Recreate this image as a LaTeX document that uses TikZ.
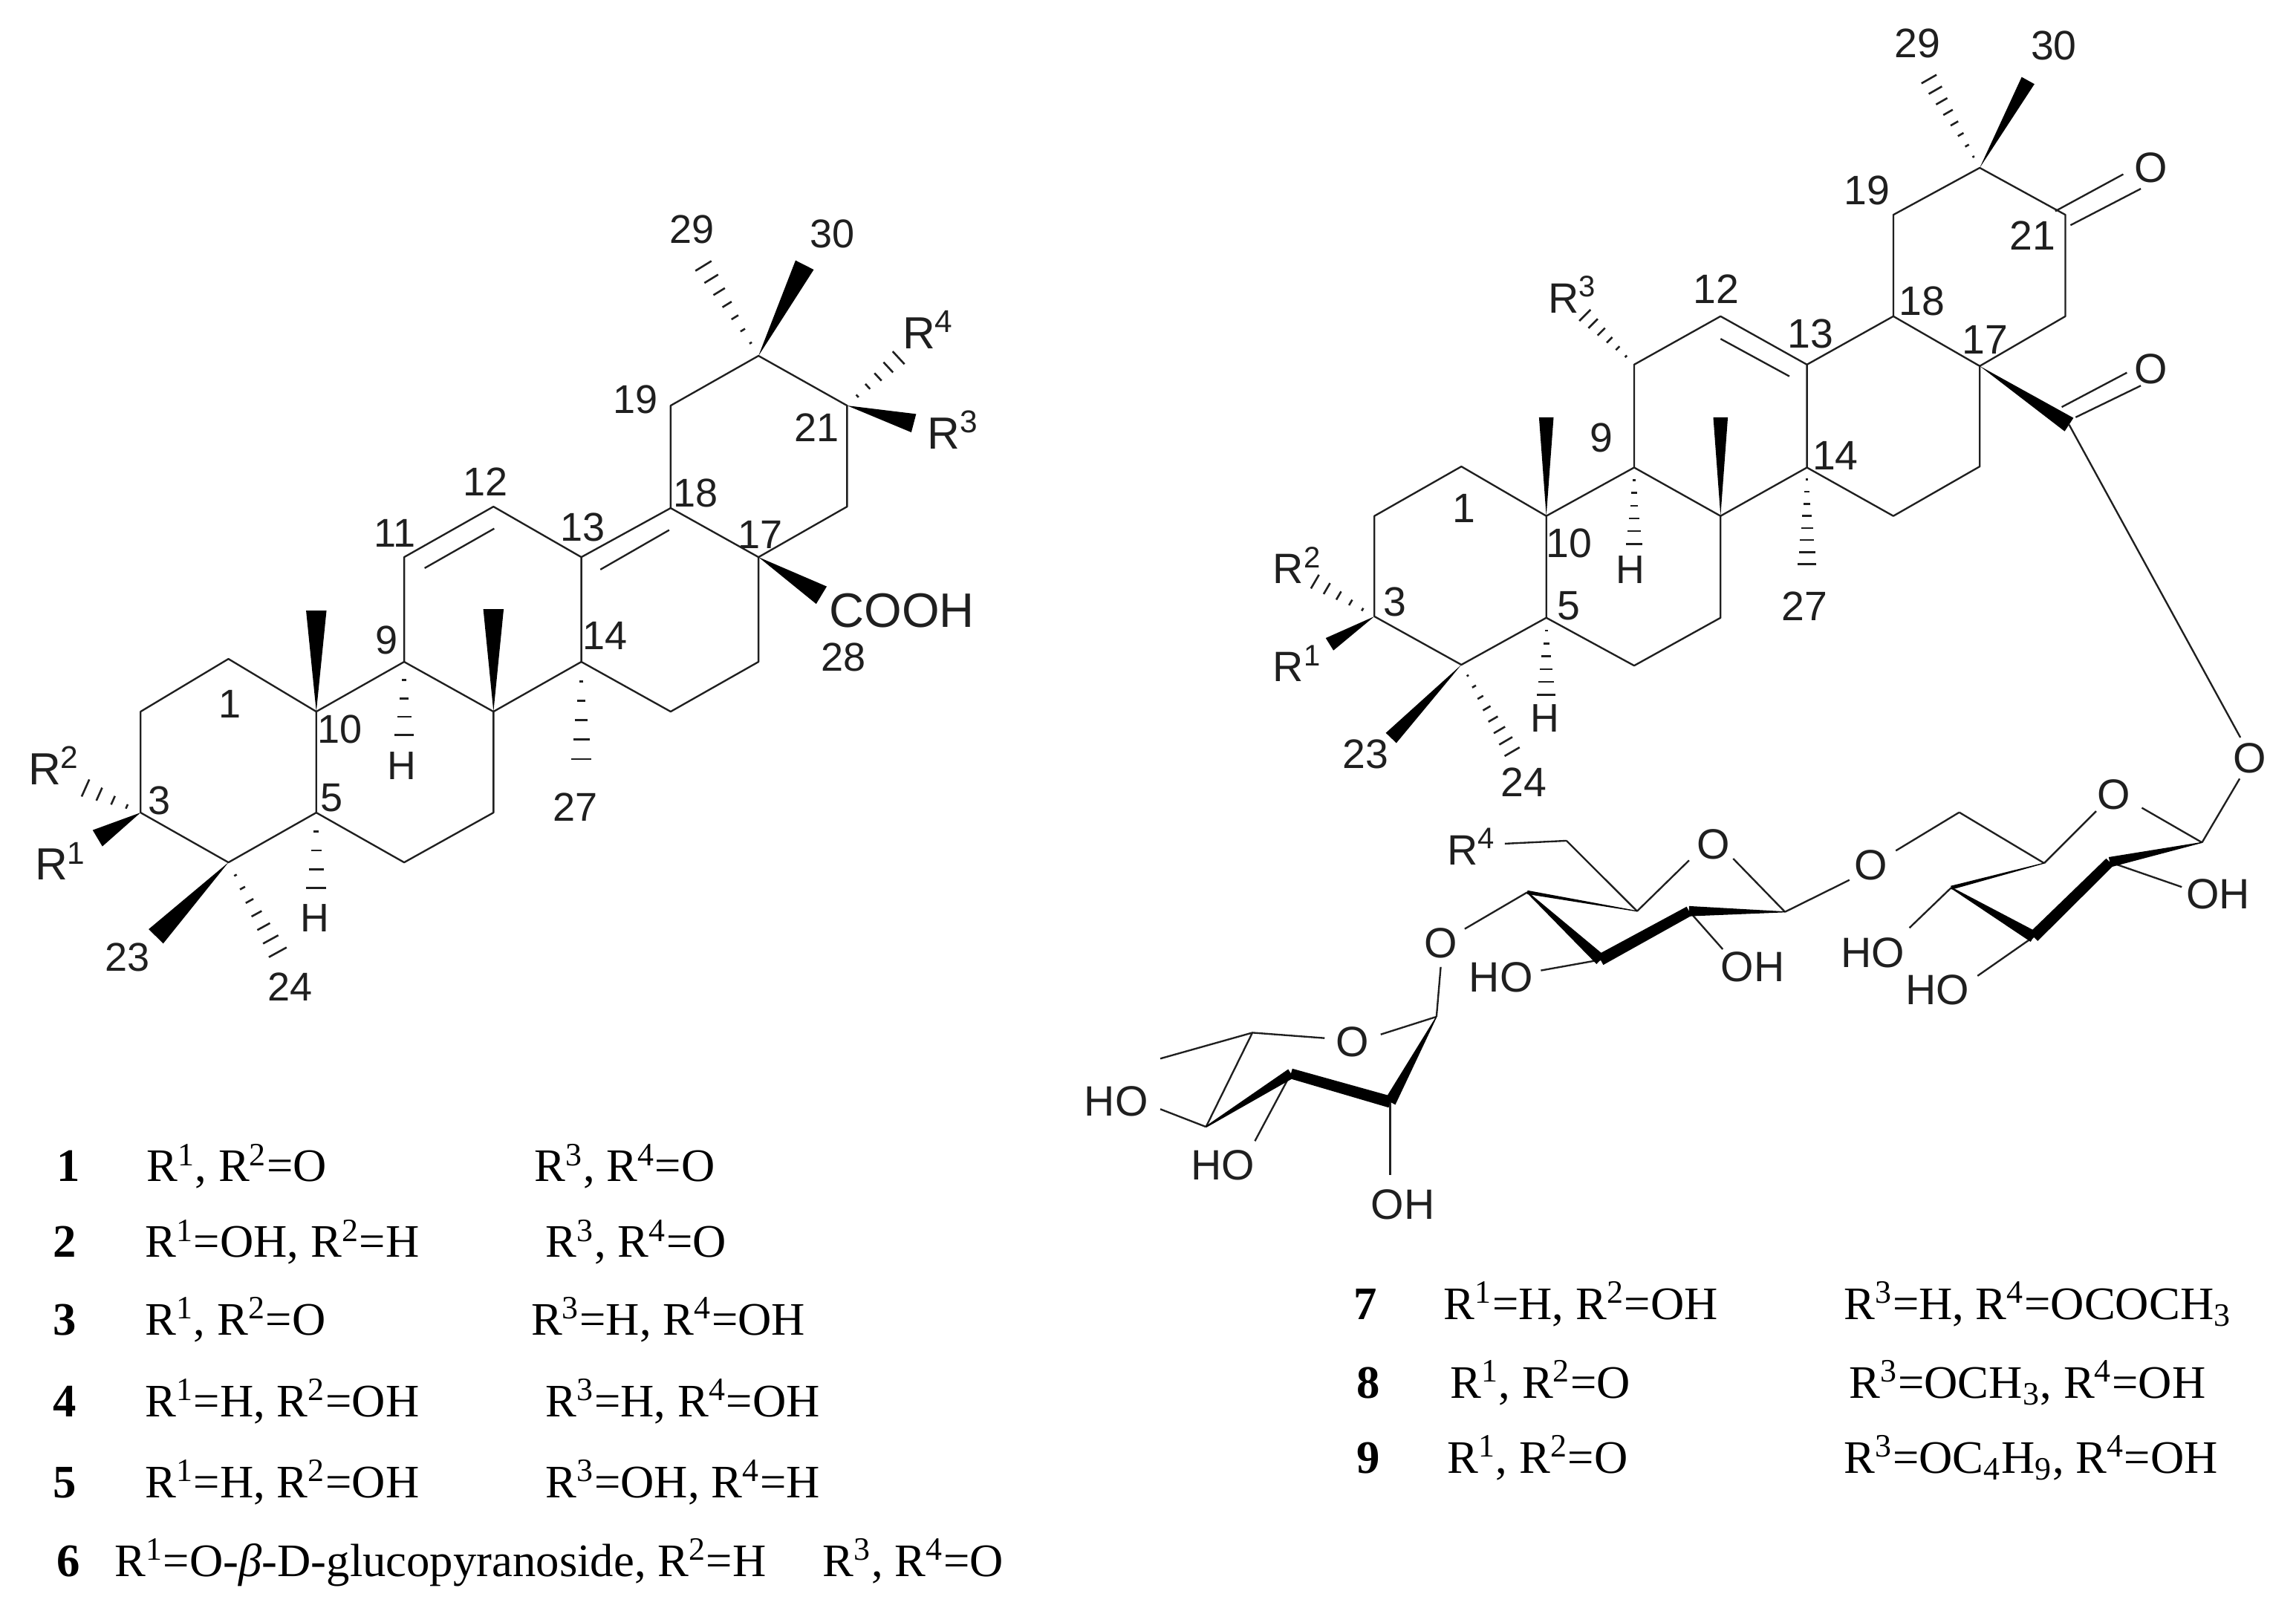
\documentclass[tikz,border=0pt]{standalone}
\usepackage{fontspec}
\setmainfont{Liberation Serif}
\newfontfamily\arialf{Liberation Sans}
\usetikzlibrary{calc}
\definecolor{ink}{gray}{0.12}
\tikzset{
  bond/.style={draw=ink,line width=0.68pt,line join=round},
  solidbond/.style={fill=black,draw=none},
  hashline/.style={draw=ink,line width=0.75pt},
  num/.style={font=\arialf\fontsize{15.6}{18}\selectfont,inner sep=0pt,text=ink},
  numb/.style={font=\arialf\fontsize{16}{18}\selectfont,inner sep=0pt,text=ink},
  rl/.style={font=\arialf\fontsize{17.5}{20}\selectfont,inner sep=0pt,anchor=base west,text=ink},
  rr/.style={font=\arialf\fontsize{16.5}{18}\selectfont,inner sep=0pt,anchor=base west,text=ink},
  hl/.style={font=\arialf\fontsize{15.5}{18}\selectfont,inner sep=0pt,text=ink},
  atomlab/.style={font=\arialf\fontsize{16.5}{20}\selectfont,inner sep=0pt,text=ink},
  tab/.style={font=\fontsize{18.1}{20}\selectfont,inner sep=0pt,anchor=base west,text=black},
}
\newcommand\wedgebond[3]{\fill[solidbond] (#1) -- ($(#2)!#3*0.2835pt!90:(#1)$) -- ($(#2)!#3*0.2835pt!-90:(#1)$) -- cycle;}
\newcommand\taperbond[4]{\fill[solidbond] ($(#1)!#3*0.2835pt!90:(#2)$) -- ($(#1)!#3*0.2835pt!-90:(#2)$) -- ($(#2)!#4*0.2835pt!90:(#1)$) -- ($(#2)!#4*0.2835pt!-90:(#1)$) -- cycle;}
% hashbond{from}{to}{end width}{number of hash lines}
\newcommand\hashbond[4]{\foreach \i in {1,...,#4}{%
  \pgfmathsetmacro\t{0.99*\i/#4}%
  \pgfmathsetmacro\hw{#3*\t*0.2835}%
  \draw[hashline] ($(#1)!\t!(#2)!\hw pt!90:(#2)$) -- ($(#1)!\t!(#2)!\hw pt!-90:(#2)$);}}
\newcommand\Rs[1]{R\textsuperscript{#1}}
\begin{document}
\begin{tikzpicture}[x=0.02cm,y=-0.02cm]
\fill[white] (0,0) rectangle (1568,1100);
\useasboundingbox (0,0) rectangle (1568,1100);

% ---------- left skeleton
\coordinate (a1) at (156,450); \coordinate (a2) at (96,486); \coordinate (a3) at (96,555);
\coordinate (a4) at (156,589); \coordinate (a5) at (216,555); \coordinate (a6) at (276,589);
\coordinate (a7) at (337,555); \coordinate (a8) at (337,486); \coordinate (a9) at (276,452);
\coordinate (a10) at (216,486); \coordinate (a11) at (276,380.5); \coordinate (a12) at (337,346);
\coordinate (a13) at (397,380.5); \coordinate (a14) at (397,452); \coordinate (a15) at (458,486);
\coordinate (a16) at (518,452); \coordinate (a17) at (518,380.5); \coordinate (a18) at (458,347);
\coordinate (a19) at (458,277); \coordinate (a20) at (518,243); \coordinate (a21) at (578.5,277);
\coordinate (a22) at (578.5,346);
\draw[bond] (a3)--(a2)--(a1)--(a10)--(a5)--(a4)--(a3);
\draw[bond] (a5)--(a6)--(a7)--(a8)--(a9)--(a10);
\draw[bond] (a9)--(a11)--(a12)--(a13)--(a14)--(a8);
\draw[bond] (a14)--(a15)--(a16)--(a17)--(a18)--(a13);
\draw[bond] (a18)--(a19)--(a20)--(a21)--(a22)--(a17);
\coordinate (a11i) at (290,388); \coordinate (a12i) at (337.5,361);
\coordinate (a13i) at (410,389); \coordinate (a18i) at (457,362);
\draw[bond] (a11i)--(a12i); \draw[bond] (a13i)--(a18i);
\coordinate (am10) at (216,417); \coordinate (am8) at (337,416);
\coordinate (am30) at (549.5,181); \coordinate (am29) at (480,181);
\coordinate (arr4) at (614,244); \coordinate (arr3) at (624,289);
\coordinate (acooh) at (561,406.5); \coordinate (ah9) at (276,502.5);
\coordinate (am27) at (397,519); \coordinate (ah5) at (216,607);
\coordinate (am23) at (106.5,639.5); \coordinate (am24) at (190,651);
\coordinate (arr1) at (66.6,572.5); \coordinate (arr2) at (58,538);
\wedgebond{a10}{am10}{14} \wedgebond{a8}{am8}{14} \wedgebond{a20}{am30}{14}
\wedgebond{a21}{arr3}{13} \wedgebond{a17}{acooh}{14} \wedgebond{a4}{am23}{14}
\wedgebond{a3}{arr1}{13}
\hashbond{a20}{am29}{13}{7} \hashbond{a21}{arr4}{12}{5} \hashbond{a9}{ah9}{13}{4}
\hashbond{a14}{am27}{14}{5} \hashbond{a5}{ah5}{14}{4} \hashbond{a4}{am24}{14}{7}
\hashbond{a3}{arr2}{13}{4}

\node[num] (l29) at (472.5,156.5) {29};
\node[num] (l30) at (568.5,159.5) {30};
\node[num] (l19) at (434,273) {19};
\node[num] (l21) at (558,292) {21};
\node[num] (l12) at (331.6,329) {12};
\node[num] (l11) at (269.5,364) {11};
\node[num] (l13) at (398,360) {13};
\node[num] (l18) at (475,337) {18};
\node[num] (l17) at (519,365) {17};
\node[num] (l28) at (576,449) {28};
\node[num] (l9) at (264,437) {9};
\node[num] (l14) at (413,434) {14};
\node[num] (l1) at (157,481) {1};
\node[num] (l10) at (232,498) {10};
\node[num] (l27) at (393,551) {27};
\node[num] (l3) at (109,547) {3};
\node[num] (l5) at (226.5,545) {5};
\node[num] (l23) at (87,654) {23};
\node[num] (l24) at (198,674) {24};
\node[hl] (lh9) at (274.5,523) {H};
\node[hl] (lh5) at (215,627) {H};
\node[rl] (lr4) at (616,238) {R\textsuperscript{4}};
\node[rl] (lr3) at (633,306.5) {R\textsuperscript{3}};
\node[rl] (lr2) at (19,536) {R\textsuperscript{2}};
\node[rl] (lr1) at (23.5,601) {R\textsuperscript{1}};
\node[font=\arialf\fontsize{18.8}{22}\selectfont,inner sep=0pt,text=ink] (lcooh) at (616,417) {COOH};

% ---------- right skeleton
\coordinate (b1) at (998,318.6); \coordinate (b2) at (938.6,352.4); \coordinate (b3) at (938.6,421);
\coordinate (b4) at (998,454); \coordinate (b5) at (1056,421.9); \coordinate (b6) at (1116,454.6);
\coordinate (b7) at (1175,421.9); \coordinate (b8) at (1175,352.4); \coordinate (b9) at (1116,319.3);
\coordinate (b10) at (1056,352.4); \coordinate (b11) at (1116,249); \coordinate (b12) at (1175,216);
\coordinate (b13) at (1234,249); \coordinate (b14) at (1234,319.3); \coordinate (b15) at (1293,352.4);
\coordinate (b16) at (1352,318.6); \coordinate (b17) at (1352,250); \coordinate (b18) at (1293,216);
\coordinate (b19) at (1293,146.7); \coordinate (b20) at (1352,114.6); \coordinate (b21) at (1410.5,146.7);
\coordinate (b22) at (1410.5,216); \coordinate (b28) at (1413,290);
\draw[bond] (b3)--(b2)--(b1)--(b10)--(b5)--(b4)--(b3);
\draw[bond] (b5)--(b6)--(b7)--(b8)--(b9)--(b10);
\draw[bond] (b9)--(b11)--(b12)--(b13)--(b14)--(b8);
\draw[bond] (b14)--(b15)--(b16)--(b17)--(b18)--(b13);
\draw[bond] (b18)--(b19)--(b20)--(b21)--(b22)--(b17);
\coordinate (b12i) at (1175,231.4); \coordinate (b13i) at (1222,257);
\draw[bond] (b12i)--(b13i);
\coordinate (bd1) at (1403.6,144.2); \coordinate (bd2) at (1450,119);
\coordinate (bd3) at (1414,153.8); \coordinate (bd4) at (1462,128.9);
\draw[bond] (bd1)--(bd2); \draw[bond] (bd3)--(bd4);
\coordinate (be1) at (1408,278); \coordinate (be2) at (1452.5,254.5);
\coordinate (be3) at (1417.5,285); \coordinate (be4) at (1462,263.4);
\draw[bond] (be1)--(be2); \draw[bond] (be3)--(be4);
\coordinate (bm10) at (1056,285); \coordinate (bm8) at (1175,285);
\coordinate (bm30) at (1385,55); \coordinate (bm29) at (1317,53.4);
\coordinate (brr3) at (1082,215); \coordinate (bh9) at (1116,372);
\coordinate (bm27) at (1234,386); \coordinate (bh5) at (1056,475);
\coordinate (bm23) at (950,504); \coordinate (bm24) at (1033,514);
\coordinate (brr1) at (908,440); \coordinate (brr2) at (897.6,397);
\wedgebond{b10}{bm10}{10} \wedgebond{b8}{bm8}{10} \wedgebond{b20}{bm30}{10}
\wedgebond{b17}{b28}{11} \wedgebond{b4}{bm23}{10} \wedgebond{b3}{brr1}{10}
\hashbond{b20}{bm29}{12}{8} \hashbond{b11}{brr3}{11}{6} \hashbond{b9}{bh9}{11}{6}
\hashbond{b14}{bm27}{13}{8} \hashbond{b5}{bh5}{13}{6} \hashbond{b4}{bm24}{12}{8}
\hashbond{b3}{brr2}{11}{5}

\node[numb] (m29) at (1309.4,29.5) {29};
\node[numb] (m30) at (1402.6,31) {30};
\node[numb] (m19) at (1275,130) {19};
\node[numb] (m21) at (1388,161) {21};
\node[numb] (m12) at (1172,197.6) {12};
\node[numb] (m18) at (1312.6,205.4) {18};
\node[numb] (m13) at (1236.6,228) {13};
\node[numb] (m17) at (1355.5,232) {17};
\node[numb] (m9) at (1093.5,299) {9};
\node[numb] (m14) at (1253.4,311) {14};
\node[numb] (m1) at (1000,347) {1};
\node[numb] (m10) at (1071.5,371) {10};
\node[numb] (m27) at (1232.4,414) {27};
\node[numb] (m3) at (952.6,411) {3};
\node[numb] (m5) at (1071.5,414) {5};
\node[numb] (m23) at (932.6,515) {23};
\node[numb] (m24) at (1040.8,534) {24};
\node[hl] (mh9) at (1113.5,389) {H};
\node[hl] (mh5) at (1055,490.6) {H};
\node[rr] (mr3) at (1057,213.6) {R\textsuperscript{3}};
\node[rr] (mr2) at (869,398.7) {R\textsuperscript{2}};
\node[rr] (mr1) at (869,465.6) {R\textsuperscript{1}};
\node[rr] (mr4) at (988,590.5) {R\textsuperscript{4}};
\node[atomlab] (o21) at (1469,114.6) {O};
\node[atomlab] (o28) at (1469,252) {O};
\node[atomlab] (o1) at (1536.6,518) {O};

% ---------- sugars
\coordinate (c1) at (1503.8,575.4); \coordinate (c2) at (1440.8,588.8); \coordinate (c3) at (1388.8,639.8);
\coordinate (c4) at (1332.5,606.3); \coordinate (c5) at (1396,589.5); \coordinate (c6) at (1338,554.8);
\coordinate (d1) at (1219,622.8); \coordinate (d2) at (1153.5,622.3); \coordinate (d3) at (1093,655.5);
\coordinate (d4) at (1043,609.4); \coordinate (d5) at (1118,622.3); \coordinate (d6) at (1069.8,574.2);
\coordinate (f1) at (981,694.4); \coordinate (f2) at (949.4,752.6); \coordinate (f3) at (881.6,733.2);
\coordinate (f4) at (823.6,769.6); \coordinate (f5) at (855.3,705.3); \coordinate (f6) at (792.4,723);

\node[atomlab] (oc) at (1443.6,542.7) {O};
\node[atomlab] (o6) at (1277.8,590.7) {O};
\node[atomlab] (od) at (1170,576.6) {O};
\node[atomlab] (o4) at (983.9,644) {O};
\node[atomlab] (of) at (923.7,711.4) {O};
\node[atomlab] (hc2) at (1514.7,610.6) {OH};
\node[atomlab] (hc4) at (1279,650.7) {HO};
\node[atomlab] (hc3) at (1323,676) {HO};
\node[atomlab] (hd2) at (1197,660.4) {OH};
\node[atomlab] (hd3) at (1025,667.7) {HO};
\node[atomlab] (hf4) at (762.3,752) {HO};
\node[atomlab] (hf3) at (835,795.8) {HO};
\node[atomlab] (hf2) at (958,822.5) {OH};

\coordinate (k1) at (1530,503.7); \draw[bond] (b28)--(k1);
\coordinate (k2) at (1529.5,531.8); \draw[bond] (k2)--(c1);
\coordinate (k3) at (1462.7,551.7); \draw[bond] (c1)--(k3);
\coordinate (k4) at (1431.5,554); \draw[bond] (k4)--(c5);
\draw[bond] (c6)--(c5);
\coordinate (k5) at (1294.7,581); \draw[bond] (k5)--(c6);
\coordinate (k6) at (1490,605.8); \draw[bond] (c2)--(k6);
\coordinate (k7) at (1304,633.7); \draw[bond] (c4)--(k7);
\coordinate (k8) at (1350.5,666.5); \draw[bond] (c3)--(k8);
\taperbond{c5}{c4}{0.6}{2.6} \taperbond{c4}{c3}{1}{8} \taperbond{c3}{c2}{8}{7} \taperbond{c2}{c1}{7}{0.6}

\coordinate (k9) at (1263,601); \draw[bond] (k9)--(d1);
\coordinate (k10) at (1183.6,586.4); \draw[bond] (d1)--(k10);
\coordinate (k11) at (1153.5,587.6); \draw[bond] (k11)--(d5);
\draw[bond] (d5)--(d6);
\coordinate (k12) at (1027.7,576.2); \draw[bond] (d6)--(k12);
\coordinate (k13) at (1176.5,648.3); \draw[bond] (d2)--(k13);
\coordinate (k14) at (1052.3,662.8); \draw[bond] (d3)--(k14);
\coordinate (k15) at (1000.3,634.4); \draw[bond] (d4)--(k15);
\taperbond{d5}{d4}{0.6}{2.6} \taperbond{d4}{d3}{1}{8} \taperbond{d3}{d2}{8}{7} \taperbond{d2}{d1}{7}{0.6}

\coordinate (k16) at (983.9,660.4); \draw[bond] (k16)--(f1);
\coordinate (k17) at (942.9,706.5); \draw[bond] (f1)--(k17);
\coordinate (k18) at (904.6,709); \draw[bond] (f5)--(k18);
\draw[bond] (f6)--(f5)--(f4);
\coordinate (k19) at (792.4,757.5); \draw[bond] (f4)--(k19);
\coordinate (k20) at (857,779.3); \draw[bond] (f3)--(k20);
\coordinate (k21) at (949.4,802.4); \draw[bond] (f2)--(k21);
\taperbond{f1}{f2}{0.6}{8} \taperbond{f2}{f3}{8}{7} \taperbond{f3}{f4}{7}{1}

% ---------- tables
\node[tab] (t1n) at (38.5,807) {\bfseries 1};
\node[tab] (t1a) at (99.7,807) {\Rs1, \Rs2=O};
\node[tab] (t1b) at (364.7,807) {\Rs3, \Rs4=O};
\node[tab] (t2n) at (36,858.7) {\bfseries 2};
\node[tab] (t2a) at (98.8,858.7) {\Rs1=OH, \Rs2=H};
\node[tab] (t2b) at (372.4,858.7) {\Rs3, \Rs4=O};
\node[tab] (t3n) at (36,911.8) {\bfseries 3};
\node[tab] (t3a) at (98.8,911.8) {\Rs1, \Rs2=O};
\node[tab] (t3b) at (362.4,911.8) {\Rs3=H, \Rs4=OH};
\node[tab] (t4n) at (36,967.4) {\bfseries 4};
\node[tab] (t4a) at (98.8,967.4) {\Rs1=H, \Rs2=OH};
\node[tab] (t4b) at (372.4,967.4) {\Rs3=H, \Rs4=OH};
\node[tab] (t5n) at (36,1023) {\bfseries 5};
\node[tab] (t5a) at (98.8,1023) {\Rs1=H, \Rs2=OH};
\node[tab] (t5b) at (372.4,1023) {\Rs3=OH, \Rs4=H};
\node[tab] (t6n) at (38.5,1076.5) {\bfseries 6};
\node[tab] (t6a) at (78,1076.5) {\Rs1=O-{\itshape β}-D-glucopyranoside, \Rs2=H};
\node[tab] (t6b) at (561.7,1076.5) {\Rs3, \Rs4=O};
\node[tab] (t7n) at (924,901) {\bfseries 7};
\node[tab] (t7a) at (985.7,901) {\Rs1=H, \Rs2=OH};
\node[tab] (t7b) at (1259,901) {\Rs3=H, \Rs4=OCOCH\textsubscript{3}};
\node[tab] (t8n) at (926,954.7) {\bfseries 8};
\node[tab] (t8a) at (990,954.7) {\Rs1, \Rs2=O};
\node[tab] (t8b) at (1262.7,954.7) {\Rs3=OCH\textsubscript{3}, \Rs4=OH};
\node[tab] (t9n) at (926,1006) {\bfseries 9};
\node[tab] (t9a) at (988,1006) {\Rs1, \Rs2=O};
\node[tab] (t9b) at (1259,1006) {\Rs3=OC\textsubscript{4}H\textsubscript{9}, \Rs4=OH};
\end{tikzpicture}
\end{document}
